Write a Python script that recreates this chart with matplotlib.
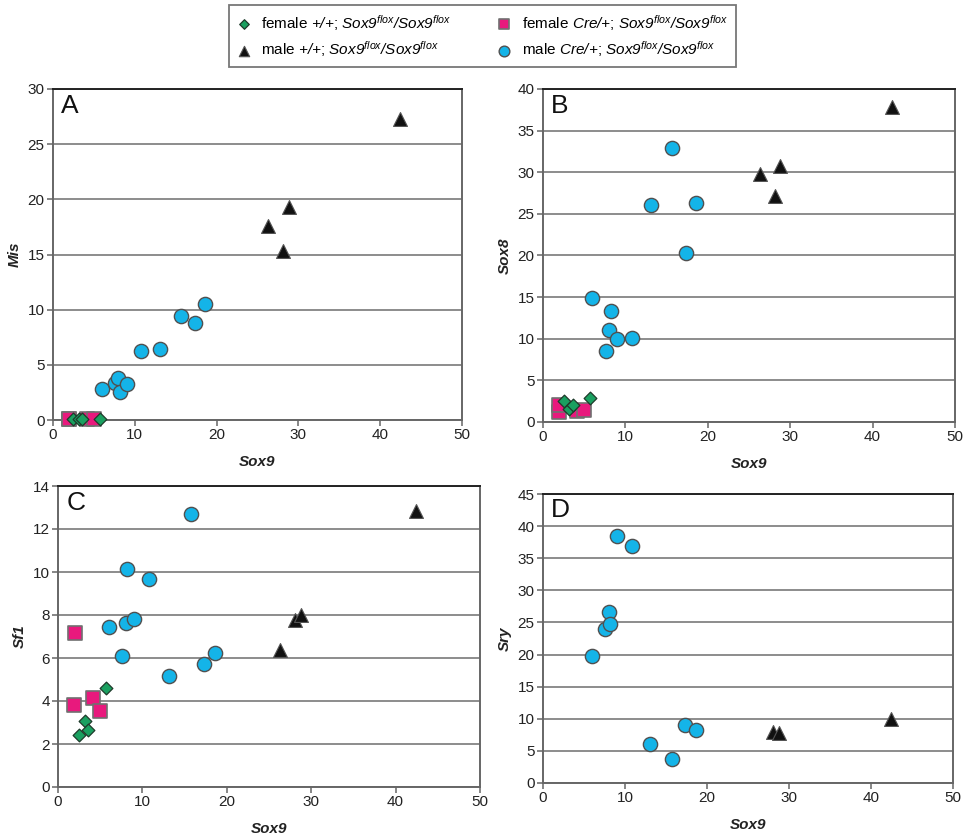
import numpy as np
import matplotlib
matplotlib.use("Agg")
import matplotlib.pyplot as plt

plt.rcParams['font.family'] = ['Liberation Sans', 'DejaVu Sans']
plt.rcParams['mathtext.fontset'] = 'custom'
plt.rcParams['mathtext.rm'] = 'Liberation Sans:italic'
plt.rcParams['mathtext.it'] = 'Liberation Sans:italic'
plt.rcParams['mathtext.bf'] = 'Liberation Sans:bold:italic'
plt.rcParams['mathtext.sf'] = 'Liberation Sans:italic'

nan = np.nan
# female +/+ ; Sox9flox/Sox9flox
ff_sox9 = [2.5, 3.2, 3.6, 5.7]
ff_mis = [0.1, 0.05, 0.05, 0.05]
ff_sox8 = [2.5, 1.6, 2.1, 2.9]
ff_sf1 = [2.42, 3.07, 2.65, 4.62]
ff_sry = [nan, nan, nan, nan]

# female Cre/+ ; Sox9flox/Sox9flox
fc_sox9 = [1.9, 2.0, 4.1, 5.0]
fc_mis = [0.05, 0.05, 0.05, 0.05]
fc_sox8 = [1.2, 2.1, 1.3, 1.4]
fc_sf1 = [3.8, 7.18, 4.16, 3.55]
fc_sry = [nan, nan, nan, nan]

# male +/+ ; Sox9flox/Sox9flox
mf_sox9 = [26.3, 28.1, 28.8, 42.4]
mf_mis = [17.6, 15.3, 19.3, 27.3]
mf_sox8 = [29.8, 27.1, 30.7, 37.8]
mf_sf1 = [6.36, 7.75, 7.98, 12.82]
mf_sry = [nan, 8.0, 7.8, 10.0]

# male Cre/+ ; Sox9flox/Sox9flox
mc_sox9 = [6.0, 7.6, 8.0, 8.2, 9.0, 10.8, 13.1, 15.7, 17.3, 18.6]
mc_mis = [2.78, 3.39, 3.78, 2.54, 3.24, 6.26, 6.44, 9.43, 8.77, 10.55]
mc_sox8 = [14.9, 8.5, 11.0, 13.36, 9.95, 10.1, 26.05, 32.97, 20.34, 26.35]
mc_sf1 = [7.44, 6.08, 7.63, 10.12, 7.83, 9.69, 5.16, 12.71, 5.74, 6.23]
mc_sry = [19.85, 23.96, 26.66, 24.69, 38.46, 36.9, 6.08, 3.69, 9.1, 8.26]

group_x = {'ff': ff_sox9, 'fc': fc_sox9, 'mf': mf_sox9, 'mc': mc_sox9}
group_labels = {
    'ff': r'female ${+}/{+}$; $Sox9^{flox}/Sox9^{flox}$',
    'mf': r'male ${+}/{+}$; $Sox9^{flox}/Sox9^{flox}$',
    'fc': r'female $Cre/{+}$; $Sox9^{flox}/Sox9^{flox}$',
    'mc': r'male $Cre/{+}$; $Sox9^{flox}/Sox9^{flox}$',
}
group_style = {
    'ff': dict(marker='D', s=42, facecolor='#1aa060', edgecolor='#1e3a2a', linewidths=0.9),
    'fc': dict(marker='s', s=110, facecolor='#e8197d', edgecolor='#707070', linewidths=1.2),
    'mf': dict(marker='^', s=100, facecolor='#111111', edgecolor='#555555', linewidths=0.8),
    'mc': dict(marker='o', s=105, facecolor='#14b4e8', edgecolor='#505050', linewidths=1.0),
}

panels = [
    ("A", "Mis", {'ff': ff_mis, 'fc': fc_mis, 'mf': mf_mis, 'mc': mc_mis}, 30, 5,
     [53, 89, 462, 420]),
    ("B", "Sox8", {'ff': ff_sox8, 'fc': fc_sox8, 'mf': mf_sox8, 'mc': mc_sox8}, 40, 5,
     [543, 89, 955, 422]),
    ("C", "Sf1", {'ff': ff_sf1, 'fc': fc_sf1, 'mf': mf_sf1, 'mc': mc_sf1}, 14, 2,
     [58, 486, 480, 787]),
    ("D", "Sry", {'ff': ff_sry, 'fc': fc_sry, 'mf': mf_sry, 'mc': mc_sry}, 45, 5,
     [543, 494, 953, 783]),
]

W, H = 965, 834
fig = plt.figure(figsize=(W / 100, H / 100), dpi=100)

handles = {}
for letter, ylab, ys, ymax, ystep, (l, t, r, b) in panels:
    ax = fig.add_axes([l / W, 1 - b / H, (r - l) / W, (b - t) / H])
    for g in ['fc', 'ff', 'mc', 'mf']:
        h = ax.scatter(group_x[g], ys[g], zorder=3, clip_on=False,
                       label=group_labels[g], **group_style[g])
        if letter == "A":
            handles[g] = h
    ax.set_xlim(0, 50)
    ax.set_ylim(0, ymax)
    ax.set_xticks(np.arange(0, 51, 10))
    ax.set_yticks(np.arange(0, ymax + 0.1, ystep))
    ax.yaxis.grid(True, color='#6e6e6e', linewidth=1.1)
    ax.set_axisbelow(True)
    for side, sp in ax.spines.items():
        sp.set_color('#666666')
        sp.set_linewidth(1.4)
    ax.spines['top'].set_color('#222222')
    ax.tick_params(axis='both', direction='out', length=4, width=1.1,
                   color='#666666', labelsize=11, labelcolor='#222222', pad=2)
    ax.set_xlabel('Sox9', fontsize=11, fontweight='bold', fontstyle='italic',
                  color='#222222', labelpad=9)
    ax.set_ylabel(ylab, fontsize=11, fontweight='bold', fontstyle='italic',
                  color='#222222', labelpad=4)
    ax.text(0.02, 0.985, letter, transform=ax.transAxes, fontsize=19,
            ha='left', va='top', color='#111111')

order = ['ff', 'mf', 'fc', 'mc']
leg = fig.legend([handles[g] for g in order], [group_labels[g] for g in order],
                 loc='upper center', bbox_to_anchor=(0.5, 1.003), ncol=2,
                 fontsize=11, frameon=True, fancybox=False,
                 edgecolor='#555555', handletextpad=0.7, columnspacing=3.0,
                 borderpad=0.5, labelspacing=0.45, markerscale=0.75,
                 handlelength=0.9)
leg.get_frame().set_linewidth(1.3)

fig.savefig('out.png', dpi=100)
